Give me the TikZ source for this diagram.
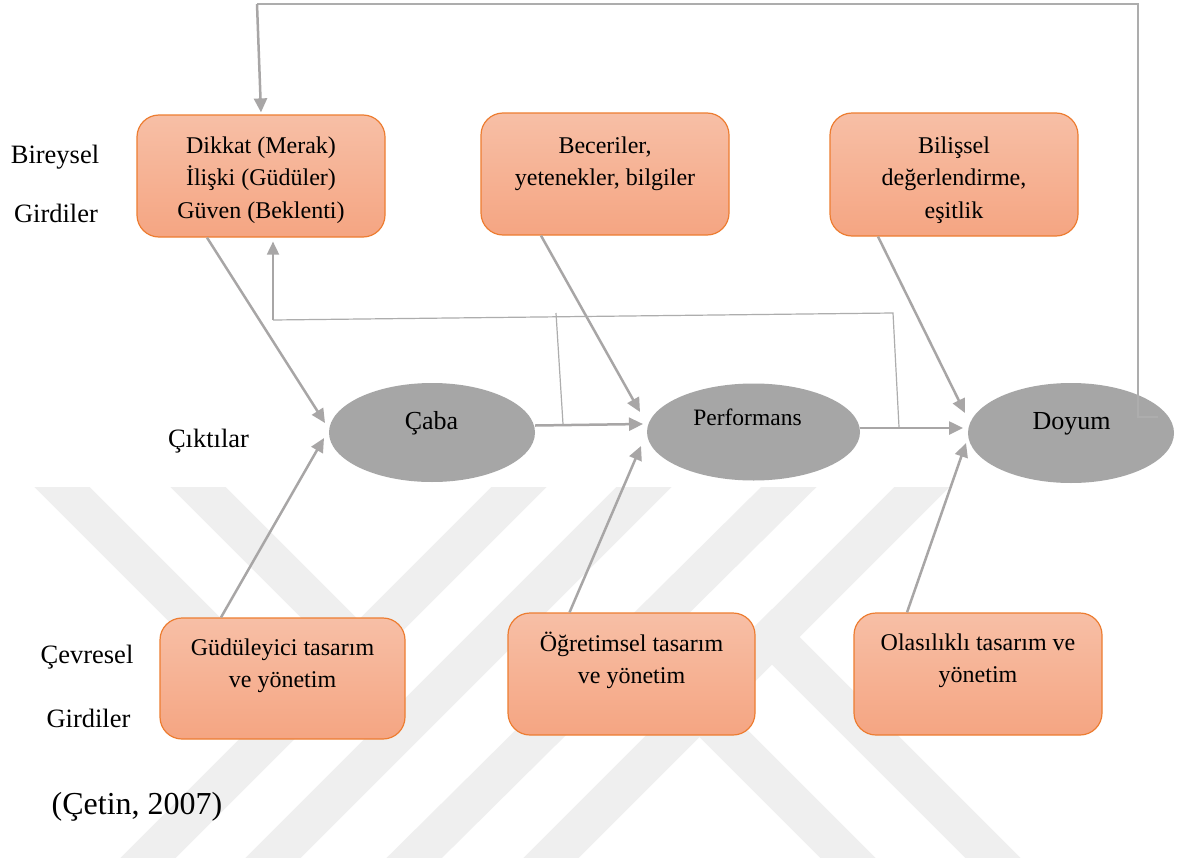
\documentclass[tikz,border=0pt]{standalone}
\usepackage{fontspec}
\setmainfont{Liberation Serif}
\usetikzlibrary{arrows.meta,shapes.geometric,calc}
\definecolor{boxtop}{HTML}{F7BFA6}
\definecolor{boxbot}{HTML}{F5A582}
\definecolor{boxline}{HTML}{ED7D31}
\definecolor{ovalfill}{HTML}{A6A6A6}
\definecolor{arrowc}{HTML}{A8A6A6}
\definecolor{thinc}{HTML}{ADADAD}
\definecolor{wmark}{HTML}{EFEFEF}
\begin{document}
\begin{tikzpicture}[x=1pt,y=-1pt,
  box/.style={draw=boxline, line width=1.2pt, rounded corners=22pt,
    top color=boxtop, bottom color=boxbot, inner sep=0pt},
  oval/.style={ellipse, fill=ovalfill, draw=none, inner sep=0pt},
  lbl/.style={font=\fontsize{26.5}{32}\selectfont, inner sep=0pt, anchor=base},
  olbl/.style={font=\fontsize{26}{32}\selectfont, inner sep=0pt, anchor=base},
  btxt/.style={font=\fontsize{24}{32.5}\selectfont, align=center, inner sep=0pt, anchor=north},
  arr/.style={draw=arrowc, line width=2.5pt, -{Triangle[length=14pt,width=13pt]}},
  arrthin/.style={draw=arrowc, line width=1.8pt, -{Triangle[length=13pt,width=12pt]}},
  fb/.style={draw=thinc, line width=1.2pt},
  band/.style={draw=wmark, line width=39pt}
]
\useasboundingbox[fill=white] (0,0) rectangle (1178,862);

% watermark
\begin{scope}
\clip (0,487) rectangle (1178,857);
\draw[band] (539,467) -- (131,875);
\draw[band] (664,467) -- (256,875);
\draw[band] (809,467) -- (397,875);
\draw[band] (942,467) -- (534,875);
\draw[band] (42,467) -- (304,729);
\draw[band] (178,467) -- (372,661);
\draw[band] (758,623) -- (1010,875);
\draw[band] (686,696) -- (865,875);
\end{scope}

% boxes
\node[box, minimum width=248pt, minimum height=122pt] (b1) at (261,176) {};
\node[box, minimum width=248pt, minimum height=122pt] (b2) at (605,174) {};
\node[box, minimum width=248pt, minimum height=123pt] (b3) at (954,174.5) {};
\node[box, minimum width=245pt, minimum height=121pt] (b4) at (282.5,678.5) {};
\node[box, minimum width=247pt, minimum height=122pt] (b5) at (631.5,674) {};
\node[box, minimum width=248pt, minimum height=122pt] (b6) at (978,674) {};

\node[btxt] (t1) at (261,130.25) {\strut Dikkat (Merak)\\\strut İlişki (Güdüler)\\\strut Güven (Beklenti)};
\node[btxt] (t2) at (605,130.25) {\strut Beceriler,\\\strut yetenekler, bilgiler};
\node[btxt] (t3) at (954,130.25) {\strut Bilişsel\\\strut değerlendirme,\\\strut eşitlik};
\node[btxt] (t4) at (282.5,632.25) {\strut Güdüleyici tasarım\\\strut ve yönetim};
\node[btxt] (t5) at (631.5,628.25) {\strut Öğretimsel tasarım\\\strut ve yönetim};
\node[btxt] (t6) at (978,627.25) {\strut Olasılıklı tasarım ve\\\strut yönetim};

% ellipses
\node[oval, minimum width=206pt, minimum height=99pt] (caba) at (432,432.5) {};
\node[oval, minimum width=213pt, minimum height=97pt] (perf) at (753.5,432) {};
\node[oval, minimum width=206pt, minimum height=100pt] (doyum) at (1071,433) {};
\node[olbl] (lcaba) at (431.5,429) {Çaba};
\node[font=\fontsize{23.5}{30}\selectfont, inner sep=0pt, anchor=base] (lperf) at (747.5,425) {Performans};
\node[olbl] (ldoyum) at (1071.5,429) {Doyum};

% side labels
\node[lbl] (bir) at (55,163) {Bireysel};
\node[lbl] (gir1) at (56,222) {Girdiler};
\node[lbl] (cik) at (208.5,447) {Çıktılar};
\node[lbl] (cev) at (87,663) {Çevresel};
\node[lbl] (gir2) at (88.5,727) {Girdiler};
\node[font=\fontsize{32}{38}\selectfont, inner sep=0pt, anchor=base] (cite) at (137,814) {(Çetin, 2007)};

% arrow tips
\coordinate (tc1) at (325,423);
\coordinate (tc2) at (324,438);
\coordinate (tp1) at (643,424);
\coordinate (tp2) at (640,412);
\coordinate (tp3) at (641,446);
\coordinate (td1) at (963,428);
\coordinate (td2) at (965,413);
\coordinate (td3) at (966,443);

% main arrows
\draw[arr] ([xshift=-54pt]b1.south) -- (tc1);
\draw[arr] ([xshift=-61.5pt]b4.north) -- (tc2);
\draw[arr] ([yshift=7pt]caba.east) -- (tp1);
\draw[arr] ([xshift=-64pt]b2.south) -- (tp2);
\draw[arr] ([xshift=-62pt]b5.north) -- (tp3);
\draw[arr] ([yshift=4pt]perf.east) -- (td1);
\draw[arr] ([xshift=-76pt]b3.south) -- (td2);
\draw[arr] ([xshift=-71pt]b6.north) -- (td3);

% feedback lines
\coordinate (dstub) at (1158,417);
\coordinate (dc1) at (1138,417);
\coordinate (dc2) at (1138,4);
\coordinate (fbtop) at (257,4);
\draw[fb] (dstub) -- (dc1) -- (dc2) -- (fbtop);
\draw[arr] (fbtop) -- ([yshift=2pt]b1.north);

\coordinate (m1) at (899,427);
\coordinate (m2) at (893,313);
\coordinate (m3) at (273,320);
\draw[fb] (m1) -- (m2) -- (m3);
\draw[arrthin] (m3) -- ([xshift=12pt,yshift=-4pt]b1.south);

\coordinate (c1) at (563,424);
\coordinate (c2) at (556,313);
\draw[fb] (c1) -- (c2);
\end{tikzpicture}
\end{document}
